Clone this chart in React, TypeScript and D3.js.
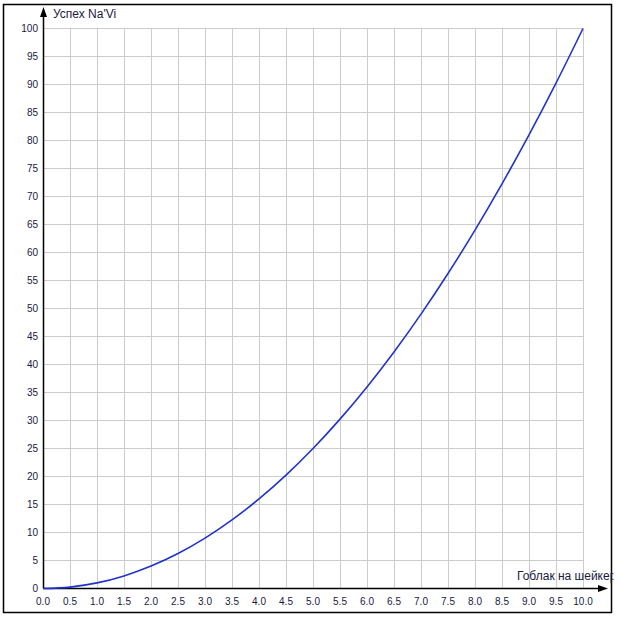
import React from "react";
import * as d3 from "d3";

const xValues = [0, 0.5, 1, 1.5, 2, 2.5, 3, 3.5, 4, 4.5, 5, 5.5, 6, 6.5, 7, 7.5, 8, 8.5, 9, 9.5, 10];
const yValues = [0, 0.25, 1, 2.25, 4, 6.25, 9, 12.25, 16, 20.25, 25, 30.25, 36, 42.25, 49, 56.25, 64, 72.25, 81, 90.25, 100];
const xTicks = [0, 0.5, 1, 1.5, 2, 2.5, 3, 3.5, 4, 4.5, 5, 5.5, 6, 6.5, 7, 7.5, 8, 8.5, 9, 9.5, 10];
const yTicks = [0, 5, 10, 15, 20, 25, 30, 35, 40, 45, 50, 55, 60, 65, 70, 75, 80, 85, 90, 95, 100];
const yTitle = "Успех Na'Vi";
const xTitle = "Гоблак на шейкер";

export default function App() {
  const x = d3.scaleLinear().domain([0, 10]).range([43, 583]);
  const y = d3.scaleLinear().domain([0, 100]).range([588.5, 28.5]);
  const pts = xValues.map((v, i) => [v, yValues[i]] as [number, number]);
  const line = d3
    .line<[number, number]>()
    .x((d) => x(d[0]))
    .y((d) => y(d[1]))
    .curve(d3.curveCatmullRom);
  const font = "'Liberation Sans', Arial, sans-serif";
  const textColor = "#1a1a40";
  return (
    <svg
      width={622}
      height={617}
      style={{ position: "absolute", left: 0, top: 0, background: "#fff" }}
    >
      <defs>
        <clipPath id="clip">
          <rect x={0} y={0} width={613.5} height={617} />
        </clipPath>
      </defs>
      <rect x={3.5} y={4.5} width={608} height={608} fill="#fff" stroke="#000" strokeWidth={1.5} />
      {xTicks.map((t) => (
        <line key={"gx" + t} x1={Math.round(x(t)) + 0.5} x2={Math.round(x(t)) + 0.5} y1={y(100)} y2={y(0)} stroke="#cccccc" strokeWidth={1} />
      ))}
      {yTicks.map((t) => (
        <line key={"gy" + t} x1={x(0)} x2={x(10)} y1={y(t)} y2={y(t)} stroke="#cccccc" strokeWidth={1} />
      ))}
      <line x1={x(0) + 0.5} x2={x(0) + 0.5} y1={y(0)} y2={14} stroke="#000" strokeWidth={1.5} />
      <path d={`M${x(0) + 0.5},7 L${x(0) - 3},17 L${x(0) + 4},17 Z`} fill="#000" />
      <line x1={x(0)} x2={600} y1={y(0)} y2={y(0)} stroke="#000" strokeWidth={1.5} />
      <path d={`M608,${y(0)} L598,${y(0) - 3.5} L598,${y(0) + 3.5} Z`} fill="#000" />
      <path d={line(pts) || ""} fill="none" stroke="#2233cc" strokeWidth={1.6} />
      {xTicks.map((t) => (
        <text key={"tx" + t} x={x(t)} y={605} textAnchor="middle" fontFamily={font} fontSize={10} fill={textColor}>
          {t.toFixed(1)}
        </text>
      ))}
      {yTicks.map((t) => (
        <text key={"ty" + t} x={38} y={y(t) + 3.5} textAnchor="end" fontFamily={font} fontSize={10} fill={textColor}>
          {t}
        </text>
      ))}
      <text x={53} y={18} fontFamily={font} fontSize={12} fill={textColor}>
        {yTitle}
      </text>
      <g clipPath="url(#clip)">
        <text x={517} y={580} fontFamily={font} fontSize={12} fill={textColor}>
          {xTitle}
        </text>
      </g>
    </svg>
  );
}
